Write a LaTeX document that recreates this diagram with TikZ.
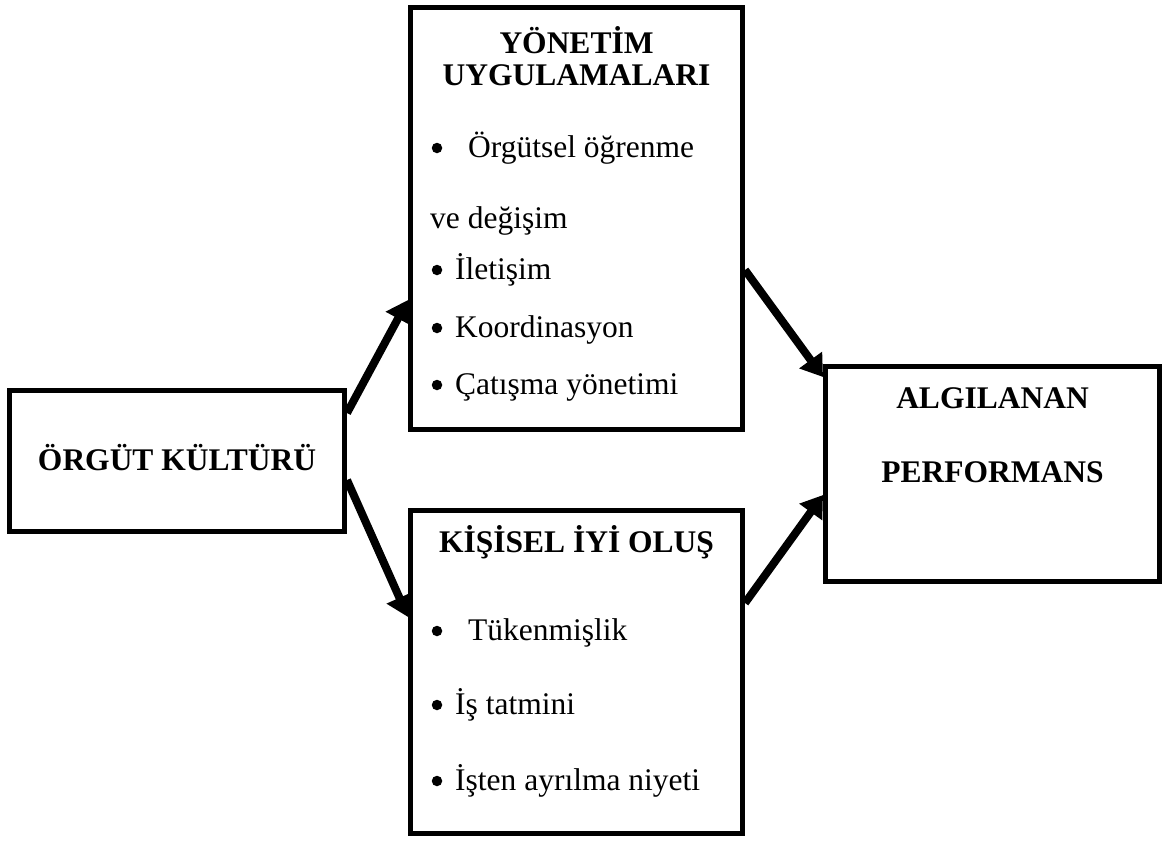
\documentclass[tikz,border=0pt]{standalone}
\usepackage{fontspec}
\setmainfont{Liberation Serif}
\usetikzlibrary{arrows.meta}
\begin{document}
\begin{tikzpicture}[x=1pt,y=-1pt,
  box/.style={draw=black,line width=5pt,inner sep=0pt,fill=white},
  txt/.style={inner sep=0pt,font=\fontsize{31.5}{32}\selectfont},
  ttl/.style={txt,font=\fontsize{31.5}{32}\selectfont\bfseries},
  dot/.style={circle,fill=black,inner sep=0pt,minimum size=10.5pt},
  arr/.style={line width=8pt,-{Triangle[length=21pt,width=27pt]}}]
\useasboundingbox (0,0) rectangle (1164,841);
% boxes (outer edges)
\node[box,minimum width=335pt,minimum height=141pt] (kul) at (177,461) {};
\node[box,minimum width=332pt,minimum height=422pt] (yon) at (576.5,218.5) {};
\node[box,minimum width=332pt,minimum height=323pt] (kis) at (576.5,672) {};
\node[box,minimum width=334pt,minimum height=215pt] (alg) at (992.5,474) {};
% left
\node[ttl,anchor=base] (kult) at (177,470) {ÖRGÜT KÜLTÜRÜ};
% top middle
\node[ttl,anchor=base] (y1) at (576.5,53) {YÖNETİM};
\node[ttl,anchor=base] (y2) at (576.5,85) {UYGULAMALARI};
\node[dot] (b1) at (437,148) {};
\node[txt,anchor=base west] (y3) at (468,157) {Örgütsel öğrenme};
\node[txt,anchor=base west] (y4) at (430,228) {ve değişim};
\node[dot] (b2) at (437,270) {};
\node[txt,anchor=base west] (y5) at (455,279) {İletişim};
\node[dot] (b3) at (437,328) {};
\node[txt,anchor=base west] (y6) at (455,337) {Koordinasyon};
\node[dot] (b4) at (437,385) {};
\node[txt,anchor=base west] (y7) at (455,394) {Çatışma yönetimi};
% bottom middle
\node[ttl,anchor=base] (k1) at (576.5,552) {KİŞİSEL İYİ OLUŞ};
\node[dot] (b5) at (437,631) {};
\node[txt,anchor=base west] (k2) at (468,640) {Tükenmişlik};
\node[dot] (b6) at (437,705) {};
\node[txt,anchor=base west] (k3) at (455,714) {İş tatmini};
\node[dot] (b7) at (437,781) {};
\node[txt,anchor=base west] (k4) at (455,790) {İşten ayrılma niyeti};
% right
\node[ttl,anchor=base] (a1) at (992.5,408) {ALGILANAN};
\node[ttl,anchor=base] (a2) at (992.5,482) {PERFORMANS};
% arrows
\draw[arr] ([yshift=-25pt]kul.north east) -- ([yshift=132pt]yon.south west);
\draw[arr] ([yshift=54pt]kul.south east) -- ([yshift=-109pt]kis.north west);
\draw[arr] ([yshift=162pt]yon.south east) -- ([yshift=-13pt]alg.north west);
\draw[arr] ([yshift=233pt]kis.south east) -- ([yshift=89pt]alg.south west);
\end{tikzpicture}
\end{document}
